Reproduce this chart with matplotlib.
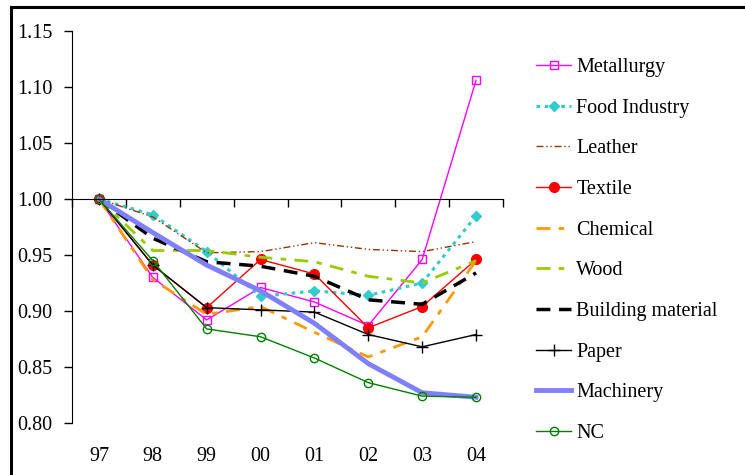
import numpy as np
import matplotlib
matplotlib.use('Agg')
import matplotlib.pyplot as plt
from matplotlib.lines import Line2D
from matplotlib.transforms import blended_transform_factory

plt.rcParams['font.family'] = ['Liberation Serif', 'DejaVu Serif']

years = ['97', '98', '99', '00', '01', '02', '03', '04']
metallurgy = [1.000, 0.930, 0.892, 0.921, 0.908, 0.887, 0.946, 1.106]
food = [1.000, 0.986, 0.953, 0.913, 0.918, 0.914, 0.925, 0.985]
leather = [1.000, 0.984, 0.952, 0.953, 0.961, 0.955, 0.953, 0.962]
textile = [1.000, 0.941, 0.903, 0.946, 0.933, 0.885, 0.904, 0.946]
chemical = [1.000, 0.928, 0.897, 0.904, 0.881, 0.859, 0.877, 0.945]
wood = [1.000, 0.954, 0.954, 0.948, 0.944, 0.931, 0.925, 0.945]
building = [1.000, 0.965, 0.944, 0.940, 0.931, 0.910, 0.906, 0.934]
paper = [1.000, 0.941, 0.903, 0.901, 0.899, 0.879, 0.868, 0.879]
machinery = [1.000, 0.970, 0.941, 0.918, 0.889, 0.853, 0.827, 0.823]
nc = [1.000, 0.945, 0.884, 0.877, 0.858, 0.836, 0.824, 0.823]

x = np.arange(len(years))

fig = plt.figure(figsize=(7.45, 4.75), dpi=100)
ax = fig.add_axes([72 / 745, 1 - 423 / 475, 431 / 745, 392 / 475])

ax.plot(x, metallurgy, color='#FF00FF', lw=1, marker='s', ms=6, mfc='none',
        mew=1, label='Metallurgy')
ax.plot(x, food, color='#33CCCC', lw=2.2, dashes=(1.2, 1.5), marker='D', ms=5,
        label='Food Industry')
ax.plot(x, leather, color='#993300', lw=1, dashes=(5, 2, 1, 2, 1, 2),
        label='Leather')
ax.plot(x, textile, color='#FF0000', lw=1, marker='o', ms=7, label='Textile')
ax.plot(x, chemical, color='#FF9900', lw=2, dashes=(5, 3, 2, 3),
        label='Chemical')
ax.plot(x, wood, color='#99CC00', lw=2, dashes=(5, 3, 2, 3), label='Wood')
ax.plot(x, building, color='black', lw=2.5, dashes=(4, 2.5),
        label='Building material')
ax.plot(x, paper, color='black', lw=1, marker='+', ms=8, mew=1, label='Paper')
ax.plot(x, machinery, color='#8080FF', lw=3.5, label='Machinery')
ax.plot(x, nc, color='#008000', lw=1, marker='o', ms=6, mfc='none', mew=1,
        label='NC')

ax.set_xlim(-0.5, len(years) - 0.5)
ax.set_ylim(0.80, 1.15)
ax.set_yticks(np.arange(0.80, 1.151, 0.05))
ax.set_yticklabels(['%.2f' % v for v in np.arange(0.80, 1.151, 0.05)])

ax.spines['top'].set_visible(False)
ax.spines['right'].set_visible(False)
ax.spines['bottom'].set_position(('data', 1.0))
ax.set_xticks(np.arange(-0.5, len(years)))
ax.set_xticklabels([])
ax.tick_params(axis='x', direction='out', length=6, width=1)
ax.tick_params(axis='y', direction='out', length=6, width=1, labelsize=14.5,
               pad=8)

trans = blended_transform_factory(ax.transData, ax.transAxes)
for xi, lab in zip(x, years):
    ax.text(xi, -0.086, lab, transform=trans, ha='center', va='center',
            fontsize=14.5)

fig.legend(loc='upper left', bbox_to_anchor=(536 / 745, 1 - 58 / 475),
           frameon=False, fontsize=14.5, labelspacing=1.07, handlelength=1.75,
           handletextpad=0.25, borderpad=0, borderaxespad=0)

# outer frame (left and top edges visible)
fig.add_artist(Line2D([11 / 745, 11 / 745], [0, 1 - 7 / 475], color='black',
                      lw=2.2, transform=fig.transFigure))
fig.add_artist(Line2D([11 / 745, 1], [1 - 7 / 475, 1 - 7 / 475],
                      color='black', lw=2.2, transform=fig.transFigure))

fig.savefig('out.png', dpi=100)
